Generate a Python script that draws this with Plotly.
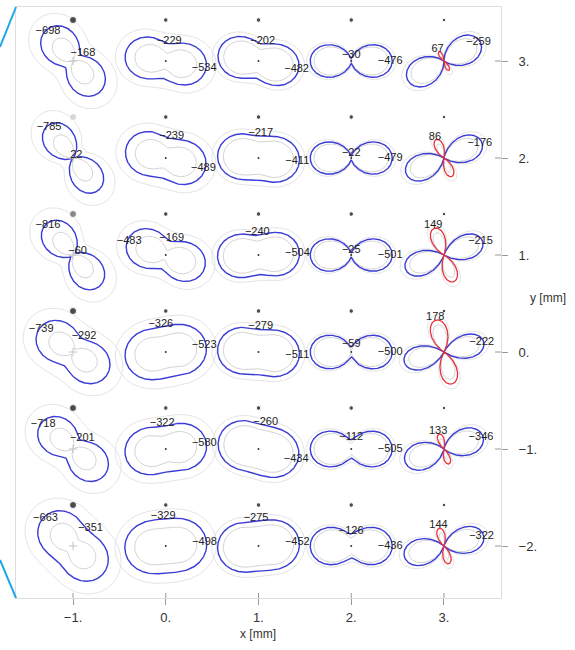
import numpy as np
import plotly.graph_objects as go

# grid of measurement points (mm)
x_cols = [-1, 0, 1, 2, 3]
y_rows = [3, 2, 1, 0, -1, -2]

# principal stresses per point (rows top->bottom, cols left->right)
sigma_1 = [
    [-698, -534, -482, -476, -259],
    [-785, -489, -411, -479, -176],
    [-816, -483, -504, -501, -215],
    [-739, -523, -511, -500, -222],
    [-718, -580, -434, -505, -346],
    [-663, -498, -452, -436, -322],
]
sigma_2 = [
    [-168, -229, -202, -30, 67],
    [22, -239, -217, -22, 86],
    [-60, -169, -240, -25, 149],
    [-292, -326, -279, -59, 178],
    [-201, -322, -260, -112, 133],
    [-351, -329, -275, -126, 144],
]
# direction of sigma_1 (degrees)
angle_deg = [
    [130, -10, -12, 0, 28],
    [128, -15, -5, 0, 23],
    [130, 160, 3, 0, 20],
    [145, 10, -5, 0, 14],
    [140, 8, -15, 0, 18],
    [135, 5, 5, 0, 15],
]
# relative spread (grey envelopes) per column
spread = [0.33, 0.24, 0.14, 0.09, 0.12]
# marker above each glyph
dot_size = [7, 4.5, 4.5, 4.5, 3.5]
dot_shade = [
    ["#000000", "#000000", "#000000", "#000000", "#000000"],
    ["#c8c8c8", "#000000", "#000000", "#000000", "#000000"],
    ["#555555", "#000000", "#000000", "#000000", "#000000"],
    ["#000000", "#000000", "#000000", "#000000", "#000000"],
    ["#000000", "#000000", "#000000", "#000000", "#000000"],
    ["#000000", "#000000", "#000000", "#000000", "#000000"],
]

x_ticks = [-1, 0, 1, 2, 3]
x_tick_text = ["\u22121.", "0.", "1.", "2.", "3."]
y_ticks = [3, 2, 1, 0, -1, -2]
y_tick_text = ["3.", "2.", "1.", "0.", "\u22121.", "\u22122."]

W, H = 575, 650
ML, MR, MT, MB = 16, 74, 7, 52
x_range = [-1.615, 3.615]
y_range = [-2.536, 3.557]
pw, ph = W - ML - MR, H - MT - MB
sx = pw / (x_range[1] - x_range[0])
sy = ph / (y_range[1] - y_range[0])
glyph_px = 41


def fmt(v):
    return str(v).replace("-", "\u2212")


theta = np.linspace(0, 2 * np.pi, 721)
bx, by, rx, ry = [], [], [], []
gox, goy, gix, giy = [], [], [], []
lx, ly, lt = [], [], []
dx, dy, dc, ds = [], [], [], []
cx0, cy0, kx, ky = [], [], [], []

for i, cy in enumerate(y_rows):
    for j, cx in enumerate(x_cols):
        s1, s2 = sigma_1[i][j], sigma_2[i][j]
        phi = np.radians(angle_deg[i][j])
        t = theta - phi
        s = s1 * np.cos(t) ** 2 + s2 * np.sin(t) ** 2
        smax = max(abs(s1), abs(s2))
        r = np.abs(s) / smax * glyph_px
        ct, st = np.cos(theta), np.sin(theta)
        xs = cx + r * ct / sx
        ys = cy + r * st / sy
        bx += list(np.where(s < 0, xs, np.nan)) + [np.nan]
        by += list(np.where(s < 0, ys, np.nan)) + [np.nan]
        rx += list(np.where(s > 0, xs, np.nan)) + [np.nan]
        ry += list(np.where(s > 0, ys, np.nan)) + [np.nan]
        u = spread[j] * glyph_px
        ro = r + u
        ri = np.clip(r - u, 0, None)
        gox += list(cx + ro * ct / sx) + [np.nan]
        goy += list(cy + ro * st / sy) + [np.nan]
        gix += list(cx + ri * ct / sx) + [np.nan]
        giy += list(cy + ri * st / sy) + [np.nan]

        # labels
        r1 = abs(s1) / smax * glyph_px * 0.95
        lx.append(cx + r1 * np.cos(phi) / sx)
        ly.append(cy + r1 * np.sin(phi) / sy)
        lt.append(fmt(s1))
        a2 = phi + np.pi / 2
        if np.sin(a2) < 0:
            a2 = phi - np.pi / 2
        r2 = abs(s2) / smax * glyph_px + 3
        lx.append(cx + r2 * np.cos(a2) / sx)
        ly.append(cy + r2 * np.sin(a2) / sy)
        lt.append(fmt(s2))

        dx.append(cx)
        dy.append(cy + glyph_px / sy)
        dc.append(dot_shade[i][j])
        ds.append(dot_size[j])
        if j == 0:
            kx.append(cx)
            ky.append(cy)
        elif j < 4:
            cx0.append(cx)
            cy0.append(cy)

fig = go.Figure()
fig.add_trace(go.Scatter(x=gox, y=goy, mode="lines", line=dict(color="#e4e4e4", width=1), hoverinfo="skip"))
fig.add_trace(go.Scatter(x=gix, y=giy, mode="lines", line=dict(color="#d4d4d4", width=1), hoverinfo="skip"))
fig.add_trace(go.Scatter(x=bx, y=by, mode="lines", line=dict(color="#3b3bd6", width=1.4), hoverinfo="skip"))
fig.add_trace(go.Scatter(x=rx, y=ry, mode="lines", line=dict(color="#e8323c", width=1.3), hoverinfo="skip"))
fig.add_trace(go.Scatter(x=cx0, y=cy0, mode="markers", marker=dict(size=2, color="#333333"), hoverinfo="skip"))
fig.add_trace(go.Scatter(x=kx, y=ky, mode="markers",
                         marker=dict(size=6, symbol="cross-thin", line=dict(color="#c4c4c4", width=1)),
                         hoverinfo="skip"))
fig.add_trace(go.Scatter(x=dx, y=dy, mode="markers", marker=dict(size=ds, color=dc), hoverinfo="skip"))
fig.add_trace(go.Scatter(x=lx, y=ly, mode="text", text=lt,
                         textfont=dict(family="Liberation Sans, Arial", size=11, color="#222222"),
                         hoverinfo="skip"))

shapes = []
for v in x_ticks:
    shapes.append(dict(type="line", xref="x", yref="paper", x0=v, x1=v, y0=0, y1=5 / ph,
                       line=dict(color="#999999", width=1)))
for v in y_ticks:
    shapes.append(dict(type="line", xref="paper", yref="y", x0=1 - 6 / pw, x1=1, y0=v, y1=v,
                       line=dict(color="#999999", width=1)))
# cyan edges at left
shapes.append(dict(type="line", xref="paper", yref="paper", x0=0, y0=1, x1=-ML / pw, y1=(H - MB - 47) / ph,
                   line=dict(color="#1fa8e3", width=2)))
shapes.append(dict(type="line", xref="paper", yref="paper", x0=-ML / pw, y0=(H - MB - 560) / ph, x1=0, y1=0,
                   line=dict(color="#1fa8e3", width=2)))

fig.update_layout(
    width=W, height=H,
    margin=dict(l=ML, r=MR, t=MT, b=MB),
    paper_bgcolor="white", plot_bgcolor="white",
    showlegend=False,
    font=dict(family="Liberation Sans, Arial", size=13, color="#333333"),
    shapes=shapes,
    annotations=[
        dict(text="x [mm]", xref="paper", yref="paper", x=(258 - ML) / pw, y=(H - MB - 634) / ph,
             xanchor="center", yanchor="middle", showarrow=False, font=dict(size=12, color="#333333")),
        dict(text="y [mm]", xref="paper", yref="paper", x=(528 - ML) / pw, y=(H - MB - 298) / ph,
             xanchor="left", yanchor="middle", showarrow=False, font=dict(size=12, color="#333333")),
    ],
)
fig.update_xaxes(range=x_range, showgrid=False, zeroline=False, showline=True, mirror=True,
                 linecolor="#dddddd", linewidth=1, tickvals=x_ticks, ticktext=x_tick_text,
                 ticks="outside", ticklen=6, tickcolor="#999999", ticklabelstandoff=1)
fig.update_yaxes(range=y_range, side="right", showgrid=False, zeroline=False, showline=True, mirror=True,
                 linecolor="#dddddd", linewidth=1, tickvals=y_ticks, ticktext=y_tick_text,
                 ticks="outside", ticklen=6, tickcolor="#999999", ticklabelstandoff=8)

fig.write_html("out.html", config={"displayModeBar": False},
               post_script="document.body.style.margin='0';")
